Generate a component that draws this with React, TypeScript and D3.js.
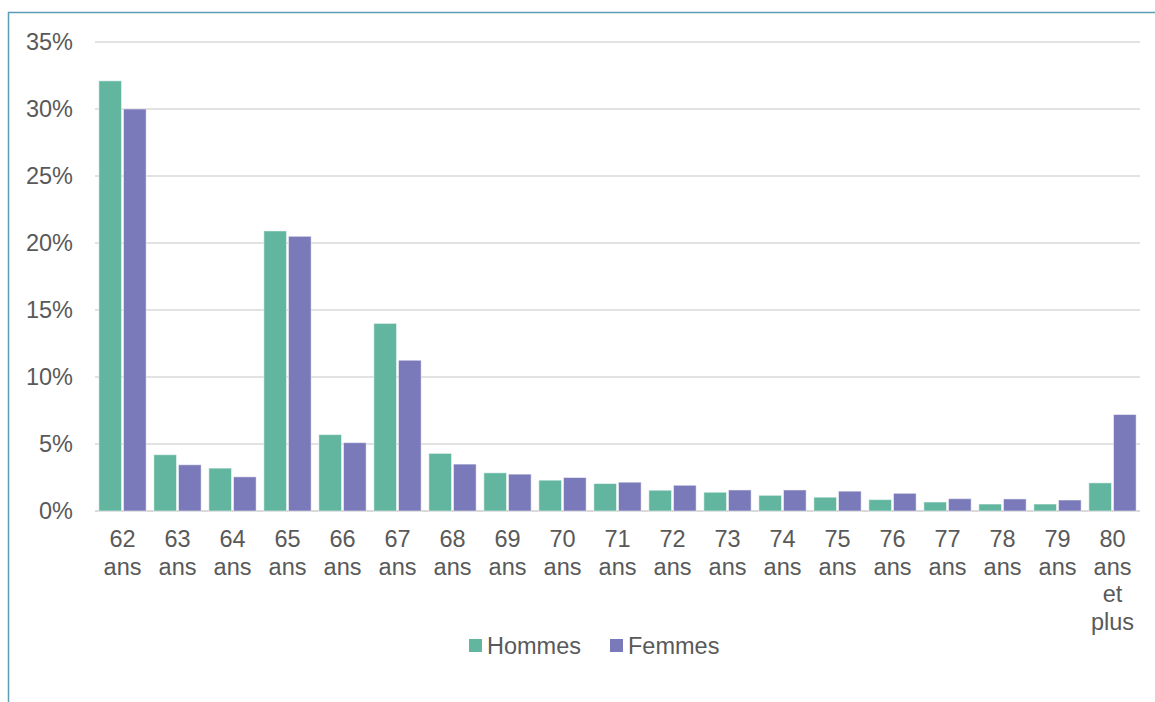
import React, { useEffect, useRef } from "react";
import * as d3 from "d3";

// age categories (multi-line labels)
const categories = [
  "62 ans", "63 ans", "64 ans", "65 ans", "66 ans", "67 ans", "68 ans",
  "69 ans", "70 ans", "71 ans", "72 ans", "73 ans", "74 ans", "75 ans",
  "76 ans", "77 ans", "78 ans", "79 ans", "80 ans et plus"
];
// share of retirees, in %
const hommes = [32.1, 4.2, 3.2, 20.9, 5.7, 14.0, 4.3, 2.85, 2.3, 2.05, 1.55, 1.4, 1.17, 1.03, 0.85, 0.67, 0.52, 0.52, 2.1];
const femmes = [30.0, 3.45, 2.55, 20.5, 5.1, 11.25, 3.5, 2.75, 2.5, 2.15, 1.92, 1.57, 1.57, 1.48, 1.32, 0.92, 0.9, 0.82, 7.2];
const seriesNames = ["Hommes", "Femmes"];
const yTicks = [0, 5, 10, 15, 20, 25, 30, 35];

const W = 1155, H = 702;
const COLORS = ["#62b6a0", "#7a7aba"];
const FONT = "Liberation Sans, Arial, sans-serif";
const FS = 23.5;
const margin = { left: 95, right: 15, top: 42, bottom: 191 };

export default function App() {
  const ref = useRef<SVGSVGElement>(null);

  useEffect(() => {
    const svg = d3.select(ref.current);
    svg.selectAll("*").remove();

    // frame (only left + top visible)
    svg.append("rect")
      .attr("x", 8.5).attr("y", 12.5)
      .attr("width", W + 20).attr("height", H + 20)
      .attr("fill", "none").attr("stroke", "#5b9db3").attr("stroke-width", 1.5);

    const width = W - margin.left - margin.right;
    const height = H - margin.top - margin.bottom;
    const g = svg.append("g").attr("transform", `translate(${margin.left},${margin.top})`);

    const x = d3.scaleBand().domain(categories).range([0, width]).paddingInner(0).paddingOuter(0);
    const x1 = d3.scaleBand().domain(seriesNames).range([x.bandwidth() * 0.07, x.bandwidth() * 0.93]).paddingInner(0.08);
    const y = d3.scaleLinear().domain([0, 35]).range([height, 0]);

    // gridlines
    g.selectAll(".grid").data(yTicks).enter().append("line")
      .attr("x1", 0).attr("x2", width)
      .attr("y1", d => y(d)).attr("y2", d => y(d))
      .attr("stroke", "#d9d9d9").attr("stroke-width", d => (d === 0 ? 2 : 1.3));

    // y labels
    g.selectAll(".ylab").data(yTicks).enter().append("text")
      .attr("x", -22).attr("y", d => y(d)).attr("dy", "0.35em")
      .attr("text-anchor", "end")
      .attr("font-family", FONT).attr("font-size", FS).attr("fill", "#595959")
      .text(d => `${d}%`);

    // bars
    const data = [hommes, femmes];
    data.forEach((vals, si) => {
      g.selectAll(`.bar${si}`).data(vals).enter().append("rect")
        .attr("x", (_, i) => (x(categories[i]) as number) + (x1(seriesNames[si]) as number))
        .attr("y", d => y(d))
        .attr("width", x1.bandwidth())
        .attr("height", d => y(0) - y(d))
        .attr("fill", COLORS[si])
        .attr("stroke", "#ffffff").attr("stroke-opacity", 0.5).attr("stroke-width", 1);
    });

    // category labels
    const lab = g.selectAll(".xlab").data(categories).enter().append("text")
      .attr("transform", d => `translate(${(x(d) as number) + x.bandwidth() / 2},${height + 36})`)
      .attr("text-anchor", "middle")
      .attr("font-family", FONT).attr("font-size", FS).attr("fill", "#595959");
    lab.each(function (d) {
      const words = d.split(" ");
      d3.select(this).selectAll("tspan").data(words).enter().append("tspan")
        .attr("x", 0).attr("y", (_, i) => i * 27.7)
        .text(w => w);
    });

    // legend
    const leg = svg.append("g").attr("transform", `translate(469,639)`);
    const offsets = [0, 141];
    seriesNames.forEach((s, i) => {
      leg.append("rect").attr("x", offsets[i]).attr("y", 0).attr("width", 13).attr("height", 13)
        .attr("fill", COLORS[i]);
      leg.append("text").attr("x", offsets[i] + 18).attr("y", 14.5)
        .attr("font-family", FONT).attr("font-size", FS).attr("fill", "#595959")
        .text(s);
    });
  }, []);

  return (
    <svg ref={ref} width={W} height={H}
      style={{ position: "absolute", left: 0, top: 0, background: "#fff" }} />
  );
}
